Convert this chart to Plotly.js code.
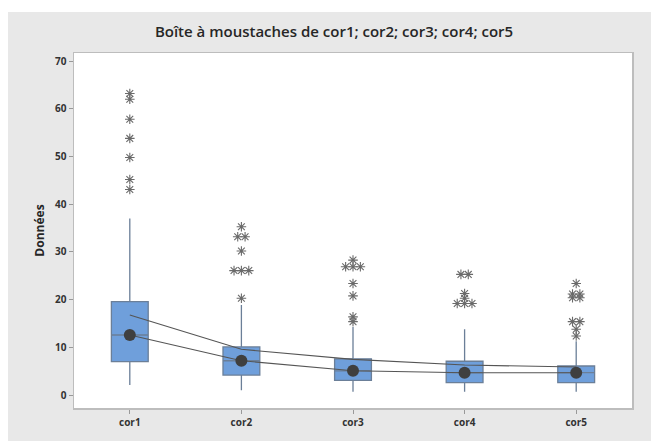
<!DOCTYPE html>
<html>
<head>
<meta charset="utf-8">
<script src="https://cdn.plot.ly/plotly-3.0.1.min.js"></script>
<style>
html,body{margin:0;padding:0;background:#ffffff;}
#chart{position:absolute;left:8px;top:12px;width:643px;height:429px;}
</style>
</head>
<body>
<div id="chart"></div>
<script>
// ---- data ----
var categories = ["cor1", "cor2", "cor3", "cor4", "cor5"];
var q1 =         [7.0, 4.2, 3.1, 2.6, 2.6];
var medians =    [12.6, 7.2, 5.1, 4.7, 4.7];
var q3 =         [19.6, 10.1, 7.6, 7.1, 6.1];
var lowWhisker = [2.1, 1.0, 0.7, 0.7, 0.7];
var highWhisker =[37.0, 18.9, 14.3, 13.8, 11.3];
var means =      [16.8, 9.6, 7.5, 6.3, 5.9];
var outCor1 = [63.2, 62.0, 57.8, 53.8, 49.8, 45.2, 43.1];
var outCor2 = [35.3, 33.2, 33.2, 30.2, 26.1, 26.1, 26.1, 20.3];
var outCor3 = [28.3, 26.9, 26.9, 26.9, 23.4, 20.8, 16.4, 15.4];
var outCor4 = [25.3, 25.3, 21.3, 20.3, 19.2, 19.2, 19.2];
var outCor5 = [23.4, 21.2, 21.2, 20.4, 20.4, 15.4, 15.4, 13.8, 12.4];
var yTicks = [0, 10, 20, 30, 40, 50, 60, 70];

var outliers = [outCor1, outCor2, outCor3, outCor4, outCor5];
var idx = categories.map(function(_, i){ return i; });

// outliers: tied values are spread side by side
var ox = [], oy = [];
outliers.forEach(function(arr, i){
  var groups = {};
  arr.forEach(function(v){ groups[v] = (groups[v] || 0) + 1; });
  Object.keys(groups).forEach(function(k){
    var n = groups[k];
    for (var j = 0; j < n; j++) {
      ox.push(i + (j - (n - 1) / 2) * 0.066);
      oy.push(parseFloat(k));
    }
  });
});

var txtFont = {family: "Open Sans, DejaVu Sans, sans-serif", size: 10, color: "#333333", weight: 700};

var traces = [
  {
    type: "box", x: idx, q1: q1, median: medians, q3: q3,
    lowerfence: lowWhisker, upperfence: highWhisker,
    width: 0.33, whiskerwidth: 0, boxpoints: false,
    fillcolor: "#6f9fdb", line: {color: "#6b7f98", width: 1.3},
    hoverinfo: "skip", showlegend: false
  },
  {
    type: "scatter", mode: "lines", x: idx, y: means,
    line: {color: "#555555", width: 1.1}, showlegend: false, hoverinfo: "skip"
  },
  {
    type: "scatter", mode: "lines+markers", x: idx, y: medians,
    line: {color: "#555555", width: 1.1},
    marker: {color: "#3f3f3f", size: 12},
    showlegend: false, hoverinfo: "skip"
  },
  {
    type: "scatter", mode: "markers", x: ox, y: oy,
    marker: {symbol: "asterisk-open", size: 8, color: "#6a6a6a", line: {color: "#6a6a6a", width: 1.1}},
    showlegend: false, hoverinfo: "skip"
  }
];

var layout = {
  width: 643, height: 429,
  margin: {l: 66, r: 19, t: 41, b: 33},
  paper_bgcolor: "#e8e8e8",
  plot_bgcolor: "#ffffff",
  title: {
    text: "Boîte à moustaches de cor1; cor2; cor3; cor4; cor5",
    x: 0.507, xanchor: "center", y: 0.955, yanchor: "middle",
    font: {family: "Open Sans, DejaVu Sans, sans-serif", size: 15, color: "#262626", weight: 600}
  },
  xaxis: {
    range: [-0.5, 4.5],
    tickvals: idx, ticktext: categories,
    ticks: "outside", ticklen: 4, tickcolor: "#999999",
    showgrid: false, zeroline: false,
    showline: true, mirror: true, linecolor: "#bdbdbd", linewidth: 1.5,
    tickfont: txtFont
  },
  yaxis: {
    range: [-2.7, 71.7],
    tickvals: yTicks,
    ticks: "outside", ticklen: 4, tickcolor: "#999999",
    showgrid: false, zeroline: false,
    showline: true, mirror: true, linecolor: "#bdbdbd", linewidth: 1.5,
    tickfont: txtFont,
    title: {text: "Données", standoff: 8,
      font: {family: "Open Sans, DejaVu Sans, sans-serif", size: 12, color: "#262626", weight: 700}}
  }
};

Plotly.newPlot("chart", traces, layout, {displayModeBar: false, staticPlot: true});
</script>
</body>
</html>
